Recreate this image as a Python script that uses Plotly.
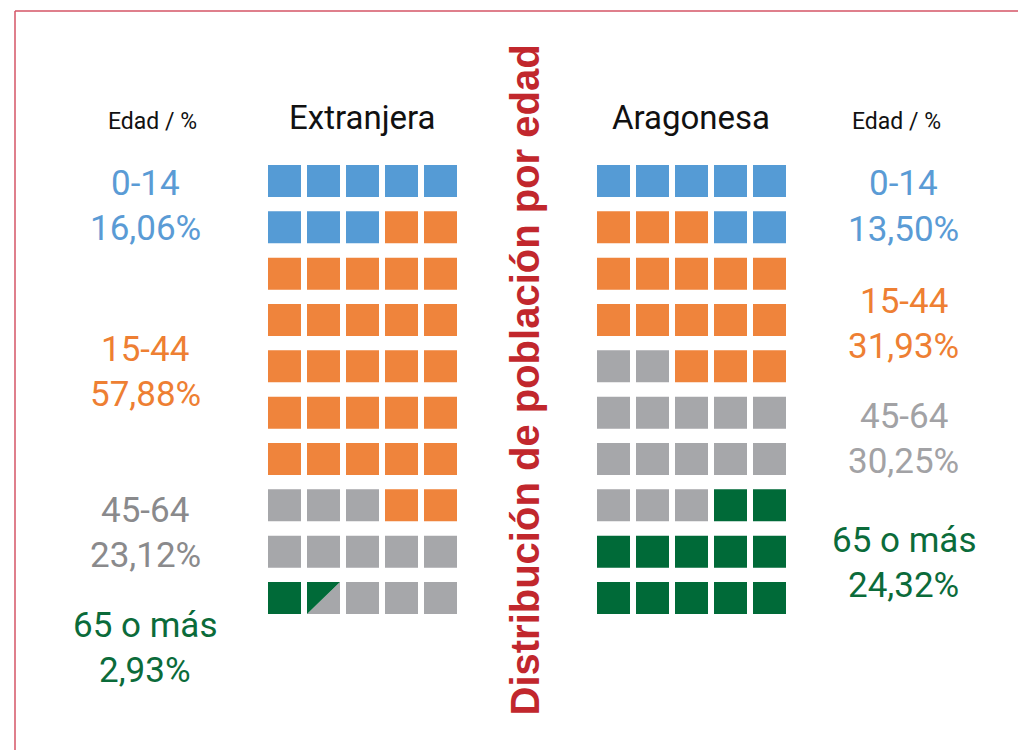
import plotly.graph_objects as go

# ---------------- data ----------------
categories = ["0-14", "15-44", "45-64", "65 o más"]
codes = ["A", "B", "C", "D"]
ext_pct = [16.06, 57.88, 23.12, 2.93]
arag_pct = [13.50, 31.93, 30.25, 24.32]
# waffle layout (each cell = 2 %); "X" = half 65+ / half 45-64 cell
ext_grid = ["AAAAA", "AAABB", "BBBBB", "BBBBB", "BBBBB",
            "BBBBB", "BBBBB", "CCCBB", "CCCCC", "DXCCC"]
arag_grid = ["AAAAA", "BBBAA", "BBBBB", "BBBBB", "CCBBB",
             "CCCCC", "CCCCC", "CCCDD", "DDDDD", "DDDDD"]
panel_titles = ["Extranjera", "Aragonesa"]
main_title = "Distribución de población por edad"
side_header = "Edad / %"

# ---------------- style ----------------
W, H = 1018, 750
cell_colors = {"A": "#559BD5", "B": "#EF843C", "C": "#A6A7AA", "D": "#006A38"}
text_colors_left = {"A": "#5A9BD5", "B": "#EE7F33", "C": "#8A8A8C", "D": "#0B6B3A"}
text_colors_right = {"A": "#5A9BD5", "B": "#EE7F33", "C": "#A2A2A5", "D": "#0B6B3A"}
HW, HH = 0.423, 0.345   # half width / height of a cell in axis units
LABEL_FONT = "Roboto, sans-serif"

fig = go.Figure()


def add_panel(grid, xa):
    polys = {c: ([], []) for c in codes}
    for r, row in enumerate(grid):
        for c, ch in enumerate(row):
            x0, x1 = c - HW, c + HW
            y0, y1 = r - HH, r + HH   # y axis reversed: y0 is top
            if ch == "X":
                # upper-left triangle 65+, lower-right triangle 45-64
                xs, ys = polys["D"]
                xs += [x0, x0, x1, x0, None]
                ys += [y1, y0, y0, y1, None]
                xs, ys = polys["C"]
                xs += [x0, x1, x1, x0, None]
                ys += [y1, y1, y0, y1, None]
            else:
                xs, ys = polys[ch]
                xs += [x0, x1, x1, x0, x0, None]
                ys += [y0, y0, y1, y1, y0, None]
    for k in codes:
        xs, ys = polys[k]
        if not xs:
            continue
        fig.add_trace(go.Scatter(
            x=xs, y=ys, mode="lines", fill="toself",
            fillcolor=cell_colors[k], line=dict(width=0, color=cell_colors[k]),
            xaxis=xa, yaxis="y", hoverinfo="skip", showlegend=False))


add_panel(ext_grid, "x")
add_panel(arag_grid, "x2")


def px_x(v):
    return v / W


def px_y(v):
    return 1 - v / H


ann = []
# panel titles
for t, cx in zip(panel_titles, [362.5, 691]):
    ann.append(dict(text=t, x=px_x(cx), y=px_y(117), xref="paper", yref="paper",
                    showarrow=False, xanchor="center", yanchor="middle",
                    font=dict(family=LABEL_FONT, size=33, color="#111111")))
# side headers
for cx in [152, 896]:
    ann.append(dict(text=side_header, x=px_x(cx), y=px_y(121), xref="paper", yref="paper",
                    showarrow=False, xanchor="center", yanchor="middle",
                    font=dict(family=LABEL_FONT, size=23, color="#111111")))


def fmt(v):
    return f"{v:.2f}".replace(".", ",") + "%"


left_y = [183, 349, 510, 625]
right_y = [184, 301, 416, 540]
for i, k in enumerate(codes):
    for lbl, yy in [(categories[i], left_y[i]), (fmt(ext_pct[i]), left_y[i] + 45)]:
        ann.append(dict(text=lbl, x=px_x(145), y=px_y(yy), xref="paper", yref="paper",
                        showarrow=False, xanchor="center", yanchor="middle",
                        font=dict(family=LABEL_FONT, size=35, color=text_colors_left[k])))
    for lbl, yy in [(categories[i], right_y[i]), (fmt(arag_pct[i]), right_y[i] + 45)]:
        ann.append(dict(text=lbl, x=px_x(903.5), y=px_y(yy), xref="paper", yref="paper",
                        showarrow=False, xanchor="center", yanchor="middle",
                        font=dict(family=LABEL_FONT, size=35, color=text_colors_right[k])))

# vertical main title
ann.append(dict(text=main_title, x=px_x(524.5), y=px_y(380), xref="paper", yref="paper",
                showarrow=False, xanchor="center", yanchor="middle", textangle=-90,
                font=dict(family="Liberation Sans, Arial, sans-serif", size=40,
                          color="#C1272D", weight="bold")))

shapes = [
    dict(type="line", xref="paper", yref="paper", x0=px_x(15), x1=px_x(15),
         y0=px_y(11), y1=0, line=dict(color="#D45566", width=1.5)),
    dict(type="line", xref="paper", yref="paper", x0=px_x(15), x1=1,
         y0=px_y(11), y1=px_y(11), line=dict(color="#D45566", width=1.5)),
]

y_top, y_bot = 157.8, 621.2
fig.update_layout(
    width=W, height=H, margin=dict(l=0, r=0, t=0, b=0),
    paper_bgcolor="white", plot_bgcolor="white",
    annotations=ann, shapes=shapes,
    xaxis=dict(domain=[px_x(265), px_x(460)], range=[-0.5, 4.5], visible=False, fixedrange=True),
    xaxis2=dict(domain=[px_x(594), px_x(789)], range=[-0.5, 4.5], visible=False,
                anchor="y", fixedrange=True),
    yaxis=dict(domain=[px_y(y_bot), px_y(y_top)], range=[9.5, -0.5], visible=False, fixedrange=True),
)

fig.write_html("out.html", config={"displayModeBar": False},
               post_script="document.body.style.margin='0';document.body.style.overflow='hidden';")
